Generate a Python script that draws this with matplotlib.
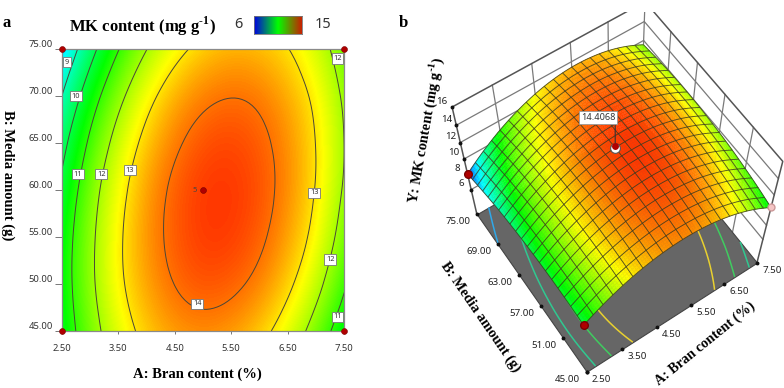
import numpy as np
import matplotlib
matplotlib.use('Agg')
import matplotlib.pyplot as plt
import matplotlib.tri as mtri
from matplotlib.colors import LinearSegmentedColormap, Normalize
from matplotlib.transforms import ScaledTranslation
from mpl_toolkits.mplot3d import proj3d
from mpl_toolkits.mplot3d.art3d import Poly3DCollection

# values
bran = [2.5, 3.0, 3.5, 4.0, 4.5, 5.0, 5.5, 6.0, 6.5, 7.0, 7.5]
media = [45, 50, 55, 60, 65, 70, 75]
mk_45 = [10.37, 11.59, 12.55, 13.23, 13.64, 13.78, 13.65, 13.25, 12.57, 11.62, 10.40]
mk_50 = [10.51, 11.79, 12.81, 13.54, 14.01, 14.21, 14.13, 13.79, 13.16, 12.27, 11.11]
mk_55 = [10.44, 11.78, 12.85, 13.65, 14.17, 14.43, 14.41, 14.12, 13.55, 12.72, 11.61]
mk_60 = [10.17, 11.57, 12.69, 13.55, 14.13, 14.44, 14.47, 14.24, 13.73, 12.95, 11.90]
mk_65 = [9.69, 11.14, 12.32, 13.23, 13.87, 14.24, 14.33, 14.15, 13.70, 12.98, 11.99]
mk_70 = [8.99, 10.50, 11.74, 12.71, 13.41, 13.83, 13.98, 13.86, 13.46, 12.80, 11.86]
mk_75 = [8.09, 9.66, 10.96, 11.98, 12.73, 13.21, 13.42, 13.35, 13.02, 12.41, 11.53]

levels = [9, 10, 11, 12, 13, 14]
floor_levels = [9.2, 11, 12, 13]
floor_colors = ['#30a8e8', '#30c890', '#40cc60', '#e8d030']
a_ticks = [2.5, 3.5, 4.5, 5.5, 6.5, 7.5]
b_ticks_2d = [45, 50, 55, 60, 65, 70, 75]
b_ticks_3d = [45, 51, 57, 63, 69, 75]
z_ticks = [6, 8, 10, 12, 14, 16]
design_a = [2.5, 2.5, 7.5, 7.5, 5.0]
design_b = [45, 75, 45, 75, 60]
contour_label_a = [2.59, 2.75, 2.79, 3.2, 3.71, 4.9, 6.97, 7.25, 7.38, 7.38]
contour_label_b = [73.6, 70.0, 61.7, 61.7, 62.1, 47.9, 59.7, 52.6, 74.0, 46.5]
contour_label_t = ['9', '10', '11', '12', '13', '14', '13', '12', '12', '11']
center_value = 14.4068

W, H = 784, 388
serif = 'Liberation Serif'
sans = 'Noto Sans'
plt.rcParams['mathtext.fontset'] = 'custom'
plt.rcParams['mathtext.bf'] = 'Liberation Serif:bold'
plt.rcParams['mathtext.rm'] = 'Liberation Serif:bold'
sup = '$^{\\mathbf{\u20101}}$'

def fx(x):
    return x / W

def fy(y):
    return 1 - y / H

mk = np.array([mk_45, mk_50, mk_55, mk_60, mk_65, mk_70, mk_75])
AA0, BB0 = np.meshgrid(bran, media)
tri = mtri.Triangulation(AA0.ravel(), BB0.ravel())
interp = mtri.CubicTriInterpolator(tri, mk.ravel(), kind='min_E')
a_fine = np.linspace(2.5 + 1e-9, 7.5 - 1e-9, 81)
b_fine = np.linspace(45 + 1e-9, 75 - 1e-9, 81)
AA, BB = np.meshgrid(a_fine, b_fine)
ZZ = np.ma.filled(interp(AA, BB), np.nan)

cmap = LinearSegmentedColormap.from_list('de', ['#0000ff', '#00ffff', '#00ff00', '#ffff00', '#ff0000'])
norm = Normalize(6, 15)
# the 3D surface runs blue a bit further up than the flat plot
cmap3 = LinearSegmentedColormap.from_list('de3', [(0, '#0000ff'), (2.1 / 9, '#0050ff'), (3 / 9, '#00ffff'),
                                                  (4.7 / 9, '#00ff00'), (6.75 / 9, '#ffff00'), (1, '#ff0000')])

fig = plt.figure(figsize=(W / 100, H / 100), dpi=100)

# panel a
ax = fig.add_axes([fx(61.7), fy(331), 282.6 / W, 282 / H])
ax.imshow(ZZ, extent=[2.5, 7.5, 45, 75], origin='lower', aspect='auto', cmap=cmap, norm=norm, interpolation='bilinear')
ax.contour(AA, BB, ZZ, levels=levels, colors='#4a4638', linewidths=0.7)
ax.set_xlim(2.5, 7.5)
ax.set_ylim(45, 75)
ax.set_xticks(a_ticks, [f'{v:.2f}' for v in a_ticks], fontfamily=sans, fontsize=6.8, color='#333333')
ax.set_yticks(b_ticks_2d, [f'{v:.2f}' for v in b_ticks_2d], fontfamily=sans, fontsize=6.8, color='#333333')
ax.tick_params(axis='x', length=2.5, width=0.7, color='#777777', pad=7)
ax.tick_params(axis='y', length=5, width=0.7, color='#777777', pad=1.5)
lift = ScaledTranslation(0, 5.5 / 100, fig.dpi_scale_trans)
for lab in ax.get_yticklabels():
    lab.set_transform(lab.get_transform() + lift)
for s in ax.spines.values():
    s.set_color('#8a8a8a')
    s.set_linewidth(0.9)
for x, y, t in zip(contour_label_a, contour_label_b, contour_label_t):
    ax.text(x, y, t, ha='center', va='center', fontsize=5.3, fontfamily=sans, color='#333333',
            bbox=dict(fc='white', ec='#777777', lw=0.6, pad=1.2))
ax.scatter(design_a, design_b, s=18, c='#b00000', edgecolors='#7a0000', linewidths=0.4, clip_on=False, zorder=5)
ax.annotate('5', (5.0, 60), xytext=(-8, 0), textcoords='offset pixels', ha='center', va='center',
            fontsize=5.5, fontfamily=sans, color='#444444')

# colour key
cax = fig.add_axes([fx(254), fy(34), 48 / W, 18 / H])
key = LinearSegmentedColormap.from_list('key', ['#0000e0', '#00ff00', '#c82000'])
cax.imshow(np.linspace(0, 1, 128)[None, :], aspect='auto', cmap=key)
cax.set_xticks([])
cax.set_yticks([])
for s in cax.spines.values():
    s.set_color('#777777')
    s.set_linewidth(0.6)

fig.text(fx(238), fy(24), '6', ha='center', va='center', fontsize=10.5, fontfamily=sans, color='#333333')
fig.text(fx(323), fy(24), '15', ha='center', va='center', fontsize=10.5, fontfamily=sans, color='#333333')
fig.text(fx(142.5), fy(26), 'MK content (mg g' + sup + ')', ha='center', va='center', fontsize=12,
         fontfamily=serif, fontweight='bold')
fig.text(fx(7), fy(23), 'a', ha='center', va='center', fontsize=12, fontfamily=serif, fontweight='bold')
fig.text(fx(403), fy(23), 'b', ha='center', va='center', fontsize=12, fontfamily=serif, fontweight='bold')
fig.text(fx(197), fy(374), 'A: Bran content (%)', ha='center', va='center', fontsize=10.5, fontfamily=serif, fontweight='bold')
fig.text(fx(8), fy(175), 'B: Media amount (g)', ha='center', va='center', rotation=-90, fontsize=10.5, fontfamily=serif, fontweight='bold')

# panel b, camera worked out from the box corners in the picture
zl = 2.477
ax3 = fig.add_axes([0.54501, 0.02498, 0.46696, 0.94354], projection='3d', computed_zorder=False)
ax3.set_xlim3d(2.5, 7.5, view_margin=0)
ax3.set_ylim3d(45, 75, view_margin=0)
ax3.set_zlim3d(zl, 16, view_margin=0)
ax3.view_init(61.398, -124.032, 0.073)
ax3.set_proj_type('persp', focal_length=0.58)
ax3.set_box_aspect((1, 1, 0.991))
ax3.set_axis_off()

grid_c = '#7a7a7a'
edge_c = '#555555'
for a in a_ticks[1:-1]:
    ax3.plot([a, a], [75, 75], [zl, 16], color=grid_c, lw=0.9, zorder=1)
for b in b_ticks_3d[1:-1]:
    ax3.plot([7.5, 7.5], [b, b], [zl, 16], color=grid_c, lw=0.9, zorder=1)
for z in z_ticks[:-1]:
    ax3.plot([2.5, 7.5, 7.5], [75, 75, 45], [z, z, z], color=grid_c, lw=0.9, zorder=1)
ax3.plot([2.5, 2.5, 7.5, 7.5, 7.5], [75, 75, 75, 45, 45], [zl, 16, 16, 16, zl], color=edge_c, lw=1.1, zorder=1)
ax3.plot([7.5, 7.5], [75, 75], [zl, 16], color=grid_c, lw=0.9, zorder=1)

floor = Poly3DCollection([[(2.5, 45, zl), (7.5, 45, zl), (7.5, 75, zl), (2.5, 75, zl)]],
                         facecolors='#666666', edgecolors='#444444', linewidths=0.8, zorder=2)
ax3.add_collection3d(floor)
ax3.contour(AA, BB, ZZ, levels=floor_levels, colors=floor_colors, zdir='z', offset=zl, linewidths=1.1, zorder=3)

ax3.plot_surface(AA, BB, ZZ, rstride=1, cstride=1, facecolors=cmap3(norm(ZZ)), shade=False,
                 linewidth=0.25, zorder=5)
ax3.plot_wireframe(AA, BB, ZZ, rstride=4, cstride=4, color='#3a3a20', linewidth=0.65, alpha=0.85, zorder=6)

M3 = ax3.get_proj()
def tick_label(a, b, z, txt, dx, dy):
    X, Y, _ = proj3d.proj_transform(a, b, z, M3)
    ax3.annotate(txt, (X, Y), xytext=(dx, dy), textcoords='offset pixels', ha='center', va='center',
                 fontsize=7, fontfamily=sans, color='#222222', annotation_clip=False, zorder=9)

for a in a_ticks:
    ax3.plot([a], [45], [zl], 'o', color='#111111', ms=1.8, zorder=4)
    tick_label(a, 45, zl, f'{a:.2f}', 15, -7.5)
for b in b_ticks_3d:
    ax3.plot([2.5], [b], [zl], 'o', color='#111111', ms=1.8, zorder=4)
    tick_label(2.5, b, zl, f'{b:.2f}', -19, -7.5)
for z in z_ticks:
    ax3.plot([2.5], [75], [z], 'o', color='#111111', ms=1.8, zorder=1)
    tick_label(2.5, 75, z, f'{z}', -10, 6)

# design points on the surface
ax3.plot([2.5], [45], [mk[0, 0]], 'o', color='#b00000', mec='#7a0000', ms=5.5, zorder=7)
ax3.plot([2.5], [75], [mk[-1, 0]], 'o', color='#b00000', mec='#7a0000', ms=5.5, zorder=7)
ax3.plot([7.5], [45], [mk[0, -1]], 'o', color='#f4c4c4', mec='#cc9999', ms=5, zorder=7)
ax3.plot([5, 5], [60, 60], [center_value, 17.3], color='#333333', lw=0.8, zorder=7)
ax3.plot([5], [60], [center_value], 'o', color='white', mec='#555555', ms=7, mew=0.8, zorder=8)
ax3.plot([5], [60], [center_value + 0.25], 'o', color='#b00000', mec='none', ms=5, zorder=8)
ax3.text(5, 60, 17.3, f'{center_value:.4f}', ha='right', va='bottom', fontsize=6.6, fontfamily=sans,
         color='#333333', bbox=dict(fc='white', ec='#999999', lw=0.6, pad=1.5), zorder=9)

fig.text(fx(425), fy(130), 'Y: MK content (mg g' + sup + ')', ha='center', va='center', rotation=80, fontsize=10.5,
         fontfamily=serif, fontweight='bold')
fig.text(fx(480), fy(317), 'B: Media amount (g)', ha='center', va='center', rotation=-55.5, fontsize=10.5,
         fontfamily=serif, fontweight='bold')
fig.text(fx(705), fy(344), 'A: Bran content (%)', ha='center', va='center', rotation=39, fontsize=10.2,
         fontfamily=serif, fontweight='bold')

fig.savefig('out.png', dpi=100)
